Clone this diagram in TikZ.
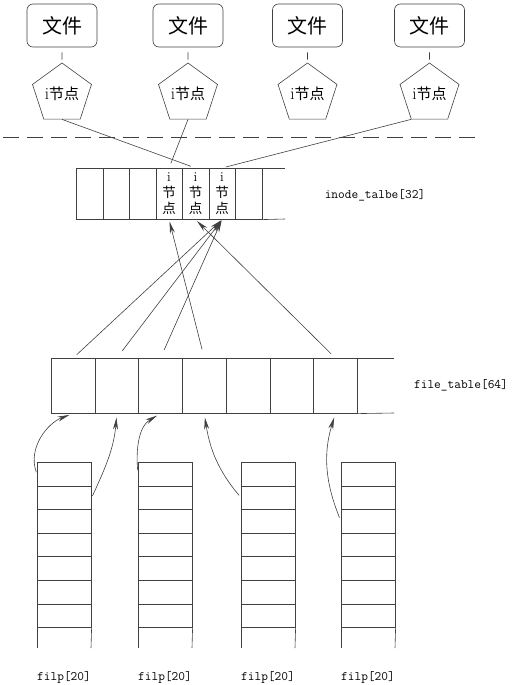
\documentclass[tikz,border=0pt]{standalone}
\usepackage{fontspec}
\newfontfamily\cjk{Noto Sans CJK SC}
\usetikzlibrary{shapes.geometric,arrows.meta}
\begin{document}
\begin{tikzpicture}[x=1pt,y=1pt,
  ln/.style={draw=black!75, line width=0.6pt},
  filebox/.style={ln, rounded corners=6pt, minimum width=70pt, minimum height=43pt, inner sep=0pt, font=\cjk\fontsize{20}{22}\selectfont},
  inodepent/.style={ln, regular polygon, regular polygon sides=5, minimum size=62pt, inner sep=0pt, font=\fontsize{15}{17}\selectfont},
  icell/.style={ln, minimum width=26.5pt, minimum height=51pt, inner sep=0pt, anchor=north west, align=center, font=\fontsize{13.5}{16}\selectfont},
  fcell/.style={ln, minimum width=43.7pt, minimum height=55pt, inner sep=0pt, anchor=north west},
  frow/.style={ln, minimum width=54pt, minimum height=23.6pt, inner sep=0pt, anchor=north west},
  lbl/.style={font=\ttfamily\fontsize{13}{15}\selectfont, inner sep=0pt},
  tip/.style={-{Stealth[length=12pt,width=5pt]}},
]
\useasboundingbox (0,0) rectangle (512,-685);

% files and inodes
\foreach \i/\x in {1/62,2/188,3/307.5,4/429.5}{
  \node[filebox] (f\i) at (\x,-25.5) {文件};
  \node[inodepent] (p\i) at (\x,-94) {{\rmfamily\fontsize{17}{17}\selectfont i}{\cjk 节点}};
  \draw[ln, shorten <=5pt, shorten >=3pt] (f\i.south) -- (p\i.north);
}

% dashed separator
\coordinate (dl) at (3,-137);
\coordinate (dr) at (480,-137);
\draw[ln, dash pattern=on 16pt off 8pt] (dl) -- (dr);

% inode table
\foreach \i in {1,...,7}{
  \node[icell] (ic\i) at ({76+(\i-1)*26.5},-168) {};
}
\foreach \i in {4,5,6}{
  \node[align=center, inner sep=0pt, font=\fontsize{13.5}{16}\selectfont] at (ic\i.center) {i\\{\cjk 节}\\{\cjk 点}};
}
\coordinate (ie1) at (285,-168);
\coordinate (ie2) at (285,-219);
\draw[ln] (ic7.north east) -- (ie1);
\draw[ln] (ic7.south east) -- (ie2);
\node[lbl] (itl) at (375,-195) {inode\_talbe[32]};

% inode -> inode table
\draw[ln, shorten >=5pt] (p1.south) -- (ic5.north);
\draw[ln, shorten >=5pt] (p2.south) -- (ic4.north);
\draw[ln, shorten >=4pt] (p4.corner 3) -- (ic6.north);

% file table
\foreach \i in {1,...,7}{
  \node[fcell] (fc\i) at ({51+(\i-1)*43.7},-358) {};
}
\coordinate (fe1) at (394,-358);
\coordinate (fe2) at (394,-413);
\draw[ln] (fc7.north east) -- (fe1);
\draw[ln] (fc7.south east) -- (fe2);
\node[lbl] (ftl) at (461,-385) {file\_table[64]};

% file table -> inode table
\draw[ln, tip, shorten <=5pt, shorten >=1pt] (fc1.north) -- (ic6.south);
\draw[ln, tip, shorten <=9pt, shorten >=1pt] (fc2.north) -- (ic6.south);
\draw[ln, tip, shorten <=9pt, shorten >=1pt] (fc3.north) -- (ic6.south);
\draw[ln, tip, shorten <=9pt, shorten >=2pt] (fc4.north) -- (ic4.south);
\draw[ln, tip, shorten <=6pt, shorten >=2pt] (fc7.north) -- (ic5.south);

% filp arrays
\foreach \k/\L in {1/37,2/138,3/241,4/341}{
  \foreach \j in {1,...,7}{
    \node[frow] (a\k r\j) at (\L,{-462-(\j-1)*23.6}) {};
  }
  \coordinate (a\k bl) at (\L,-648);
  \coordinate (a\k br) at (\L+54,-648);
  \draw[ln] (a\k r7.south west) -- (a\k bl);
  \draw[ln] (a\k r7.south east) -- (a\k br);
  \node[lbl] (lb\k) at (\L+27,-677) {filp[20]};
}

% filp -> file table
\draw[ln, tip, shorten <=2pt, shorten >=4pt] (a1r1.west) to[out=110,in=200] (fc1.south);
\draw[ln, tip, shorten <=2pt, shorten >=4pt] (a1r2.east) to[out=65,in=265] (fc2.south);
\draw[ln, tip, shorten <=4pt, shorten >=4pt] (a2r1.west) to[out=95,in=210] (fc3.south);
\draw[ln, tip, shorten <=3pt, shorten >=4pt] (a3r2.west) to[out=130,in=279] (fc4.south);
\draw[ln, tip, shorten <=4pt, shorten >=4pt] (a4r3.west) to[out=112,in=253] (fc7.south);
\end{tikzpicture}
\end{document}
